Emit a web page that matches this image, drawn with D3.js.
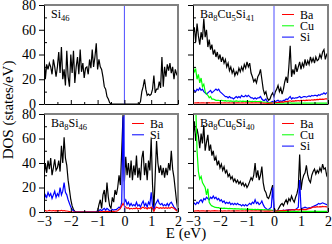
<!DOCTYPE html>
<html>
<head>
<meta charset="utf-8">
<script src="https://cdn.jsdelivr.net/npm/d3@7"></script>
<style>
body { margin: 0; background: #fff; }
text { font-family: "Liberation Serif", "Times New Roman", serif; }
</style>
</head>
<body>
<script>
// energy grid (eV), 0.05 steps
var energy = [
  -3.00,-2.95,-2.90,-2.85,-2.80,-2.75,-2.70,-2.65,-2.60,-2.55,
  -2.50,-2.45,-2.40,-2.35,-2.30,-2.25,-2.20,-2.15,-2.10,-2.05,
  -2.00,-1.95,-1.90,-1.85,-1.80,-1.75,-1.70,-1.65,-1.60,-1.55,
  -1.50,-1.45,-1.40,-1.35,-1.30,-1.25,-1.20,-1.15,-1.10,-1.05,
  -1.00,-0.95,-0.90,-0.85,-0.80,-0.75,-0.70,-0.65,-0.60,-0.55,
  -0.50,-0.45,-0.40,-0.35,-0.30,-0.25,-0.20,-0.15,-0.10,-0.05,
   0.00, 0.05, 0.10, 0.15, 0.20, 0.25, 0.30, 0.35, 0.40, 0.45,
   0.50, 0.55, 0.60, 0.65, 0.70, 0.75, 0.80, 0.85, 0.90, 0.95,
   1.00, 1.05, 1.10, 1.15, 1.20, 1.25, 1.30, 1.35, 1.40, 1.45,
   1.50, 1.55, 1.60, 1.65, 1.70, 1.75, 1.80, 1.85, 1.90, 1.95,
   2.00];

var xTicks = [-3, -2, -1, 0, 1, 2];
var xMinor = [-2.5, -1.5, -0.5, 0.5, 1.5];
var yTicks = [0, 20, 40, 60, 80];
var yMinor = [10, 30, 50, 70];

// Si46 total
var si46Tot = [
  40,20,32,28,33,30,24,36,30,22,
  30,42,25,46,20,28,15,43,22,14,
  40,25,43,17,30,38,24,44,26,33,
  21,29,30,24,36,29,44,30,38,49,
  28,36,30,28,22,14,12,6,4,1,
  0,0,0,0,0,0,0,0,0,0,
  0,0,0,0,0,0,0,0,0,0,
  0,0,2,10,14,20,12,7,8,7,
  8,12,23,9,12,12,18,13,38,14,
  30,22,32,27,33,25,30,20,28,24,
  22];

// Ba8Si46
var b46Tot = [
  28,40,32,42,35,44,30,36,43,34,
  36,42,33,54,40,61,44,38,26,18,
  10,5,2,0.5,0,0,0,0,0,0,
  0,0,0,0,0,0,0,0,0,0,
  1,6,10,3,14,18,8,24,12,5,
  3,12,8,18,14,20,30,22,50,80,
  25,45,30,40,28,42,26,38,30,46,
  28,36,26,44,50,30,40,26,42,34,
  60,22,2,30,58,40,32,38,30,36,
  28,36,30,40,34,50,35,28,18,8,
  1];
var b46Si = [
  9,14,12,16,13,15,11,14,17,12,
  15,13,20,14,17,24,16,14,10,7,
  4,2,1,0,0,0,0,0,0,0,
  0,0,0,0,0,0,0,0,0,0,
  0.5,1,2,1,2,3,1.5,3,2,1,
  1,2,1.5,2,2,3,4,3,8,78,
  8,10,6,8,5,7,5,6,5,8,
  5,6,4,7,9,5,7,4,8,6,
  16,5,1,6,8,10,7,6,7,5,
  6,5,7,5,7,8,6,4,3,1.5,
  0.5];
var b46Ba = [
  1,1.2,0.8,1,1.3,1,0.9,1.2,1,1.1,
  0.9,1.2,1,1.4,1,1.2,0.9,0.8,0.6,0.4,
  0.2,0,0,0,0,0,0,0,0,0,
  0,0,0,0,0,0,0,0,0,0,
  0,0.2,0.3,0.2,0.4,0.5,0.3,0.5,0.4,0.3,
  0.3,0.5,0.4,0.6,0.6,1,2,3,5,7,
  5,4,3,3.5,2.5,3,2.5,3,2.8,3.5,
  2.5,3,2.5,3.5,4,3,3.5,2.5,3.5,3,
  4,3,0.5,3,4,3.5,3,3.5,3,3.5,
  3,3.5,3,3.5,3,4,3.5,3,2,1,
  0.3];

// Ba8Cu5Si41
var c5Tot = [
  56,62,50,65,55,48,58,52,69,54,
  60,46,52,44,48,40,44,38,42,36,
  40,34,38,33,36,30,33,27,30,25,
  28,23,26,24,29,26,30,27,32,29,
  34,30,33,25,22,18,20,17,22,24,
  28,20,12,8,10,5,3,4,7,9,
  6,10,12,15,10,13,8,12,18,22,
  17,30,47,22,28,24,32,26,30,34,
  28,33,30,36,31,35,32,38,34,37,
  33,38,35,36,40,37,42,44,36,40,
  38];
var c5Si = [
  9,11,10,12,11,13,11,12,10,9,
  8,9,10,11,9,10,11,12,11,12,
  10,9,8,7,6,6,5,6,5,5,
  4,5,6,5,6,5,7,6,6,7,
  6,7,6,5,5,4,5,4,5,5,
  6,4,3,3,4,2,1,1,1.5,2,
  1.5,2,2.5,3,2,2.5,2,3,3,4,
  3.5,5,6,4,5,4.5,5,5,5.5,6,
  5,5.5,6,6,5.5,6,6.5,6,7,6.5,
  7,7,6.5,7.5,7,8,8,9,8,9,
  9];
var c5Cu = [
  32,26,28,20,24,17,21,14,16,10,
  8,7,5,6,4,4,3.5,3,3,3,
  2.5,3,2.8,2.5,2.7,2.4,2.6,2.3,2.5,2.2,
  2.4,2.2,2.5,2.3,2.2,2.4,2.2,2.3,2.1,2.2,
  2.3,2.1,2.2,2,2.1,2,2.2,2,1.9,2,
  2.1,1.8,1.6,1.5,1.4,1.2,1,0.9,0.9,0.8,
  0.8,0.8,0.7,0.8,0.7,0.7,0.8,0.7,0.7,0.8,
  0.7,0.8,0.9,0.7,0.8,0.7,0.8,0.7,0.8,0.7,
  0.8,0.7,0.8,0.7,0.8,0.7,0.8,0.7,0.8,0.7,
  0.8,0.7,0.8,0.7,0.8,0.7,0.8,0.7,0.8,0.7,
  0.7];
var c5Ba = [
  1,0.8,1,0.9,1.1,0.8,1,0.9,1,0.8,
  1,0.9,1.1,0.8,1,0.9,1,0.8,1,0.9,
  0.9,1,0.8,1,0.9,0.8,1,0.9,0.8,1,
  0.9,0.8,1,0.9,1,0.8,0.9,1,0.8,0.9,
  1,0.9,0.8,1,0.9,0.8,0.9,1,0.8,0.9,
  0.9,0.8,0.7,0.6,0.6,0.5,0.5,0.6,0.7,0.8,
  0.9,1,1.2,1.4,1.3,1.5,1.7,1.6,1.9,2.1,
  2,2.3,2.6,2.2,2.5,2.4,2.7,2.5,2.8,2.6,
  2.9,2.7,3,2.8,3.1,2.9,3.2,3,3.4,3.2,
  3.5,3.3,3.7,3.5,3.9,3.7,4,3.8,4.2,4.1,
  4.3];

// Ba8Cu6Si40
var c6Tot = [
  60,74,58,68,62,52,64,56,71,50,
  57,63,50,55,46,50,42,45,38,42,
  36,39,34,37,32,34,29,31,27,29,
  25,27,24,26,23,25,22,24,21,23,
  20,22,25,28,26,30,40,28,34,26,
  30,37,24,18,16,12,11,14,18,22,
  4,1,0.5,2,4,6,7,5,8,10,
  7,11,9,13,10,8,12,15,20,47,
  18,26,30,32,38,30,26,24,30,33,
  35,31,34,32,36,33,39,35,36,30,
  33];
var c6Si = [
  9,7,6,8,7,9,10,8,11,10,
  12,11,10,12,11,13,11,12,10,11,
  9,10,8,9,7,8,7,8,6,7,
  6,7,6,7,6,6,5,6,5,6,
  5,6,7,6,8,7,10,7,8,6,
  7,9,6,4,3,2,2,3,4,20,
  2,0.5,0.5,0.8,1,1.2,1,1.5,1.2,1.5,
  1.5,2,1.8,2,2,1.5,2,3,4,26,
  3,3,3.5,4,3.5,3,3.5,3,4,4.5,
  5,5.5,6,7,6.5,7,7.5,7,6.5,6,
  6];
var c6Cu = [
  100,95,88,50,33,27,29,24,22,20,
  14,19,8,6,5,4.5,4,3.8,3.5,3.5,
  3,3.2,3,3.1,2.9,3,2.8,2.9,2.7,2.8,
  2.6,2.7,2.5,2.6,2.5,2.4,2.5,2.3,2.4,2.3,
  2.2,2.3,2.2,2.1,2.2,2,2.1,2,2.1,2,
  1.9,2,1.8,1.9,1.7,1.8,1.6,1.7,1.5,1.4,
  0.8,0.6,0.5,0.5,0.6,0.5,0.6,0.5,0.5,0.6,
  0.5,0.6,0.5,0.6,0.5,0.6,0.5,0.6,0.5,0.8,
  0.6,0.5,0.6,0.5,0.6,0.5,0.6,0.5,0.6,0.5,
  0.6,0.5,0.6,0.5,0.6,0.5,0.6,0.5,0.6,0.5,
  0.5];
var c6Ba = [
  1,0.8,1,0.9,1.1,0.8,1,0.9,1,0.8,
  1,0.9,1,0.8,1,0.9,1.1,0.9,1,0.8,
  0.9,1,0.8,1,0.9,0.8,1,0.9,0.8,1,
  0.9,0.8,1,0.9,1,0.8,0.9,1,0.8,0.9,
  1,0.9,0.8,1,0.9,0.8,0.9,1,0.8,0.9,
  0.9,0.8,0.8,0.7,0.8,0.7,0.8,0.7,0.8,0.8,
  0.8,0.7,0.8,0.9,1,1.1,1.2,1.3,1.2,1.4,
  1.5,1.6,1.5,1.7,1.8,1.7,1.9,2,1.8,2,
  2,2.1,1.9,2.2,2,2.4,2.8,3.2,3.6,4,
  4.2,4,4.3,4.1,4.4,4.2,4.5,4.3,4.4,4.2,
  4.3];

var cBlack = "#000", cRed = "#ff0000", cGreen = "#00ff00", cBlue = "#0000ff";

var panels = [
  {col: 0, row: 0, label: [["Si", 0], ["46", 1]],
   series: [{v: si46Tot, c: cBlack}], legend: []},
  {col: 1, row: 0, label: [["Ba", 0], ["8", 1], ["Cu", 0], ["5", 1], ["Si", 0], ["41", 1]],
   series: [{v: c5Tot, c: cBlack}, {v: c5Si, c: cBlue}, {v: c5Cu, c: cGreen}, {v: c5Ba, c: cRed}],
   legend: [["Ba", cRed], ["Cu", cGreen], ["Si", cBlue]]},
  {col: 0, row: 1, label: [["Ba", 0], ["8", 1], ["Si", 0], ["46", 1]],
   series: [{v: b46Tot, c: cBlack}, {v: b46Si, c: cBlue}, {v: b46Ba, c: cRed}],
   legend: [["Ba", cRed], ["Si", cBlue]]},
  {col: 1, row: 1, label: [["Ba", 0], ["8", 1], ["Cu", 0], ["6", 1], ["Si", 0], ["40", 1]],
   series: [{v: c6Tot, c: cBlack}, {v: c6Si, c: cBlue}, {v: c6Cu, c: cGreen}, {v: c6Ba, c: cRed}],
   legend: [["Ba", cRed], ["Cu", cGreen], ["Si", cBlue]]}
];

var cols = [[44, 178], [193, 328]];
var rows = [[104, 5], [212, 114]];

var svg = d3.select("body").append("svg")
    .attr("width", 332)
    .attr("height", 244);
var defs = svg.append("defs");

panels.forEach(function(p, k) {
  var x = d3.scaleLinear().domain([-3, 2]).range(cols[p.col]);
  var y = d3.scaleLinear().domain([0, 80]).range(rows[p.row]);
  var g = svg.append("g");

  defs.append("clipPath").attr("id", "clip" + k)
    .append("rect")
      .attr("x", x(-3)).attr("y", y(80))
      .attr("width", x(2) - x(-3)).attr("height", y(0) - y(80));

  var line = d3.line()
      .x(function(d, i) { return x(energy[i]); })
      .y(function(d) { return y(d); });

  p.series.forEach(function(s) {
    g.append("path")
        .datum(s.v)
        .attr("clip-path", "url(#clip" + k + ")")
        .attr("fill", "none")
        .attr("stroke", s.c)
        .attr("stroke-width", 1.2)
        .attr("d", line);
  });

  // Fermi level
  g.append("line")
      .attr("x1", x(0)).attr("x2", x(0))
      .attr("y1", y(0)).attr("y2", y(80))
      .attr("stroke", "#4d4dff").attr("stroke-width", 1);

  // top / right frame
  g.append("path")
      .attr("d", "M" + x(-3) + "," + y(80) + "H" + x(2) + "V" + y(0))
      .attr("fill", "none").attr("stroke", "#808080").attr("stroke-width", 2);

  // y axis
  var ya = g.append("g")
      .attr("transform", "translate(" + x(-3) + ",0)")
      .call(d3.axisLeft(y).tickValues(yTicks).tickSize(5).tickSizeOuter(0)
        .tickFormat(p.col === 0 ? d3.format("d") : ""));
  g.append("g")
      .attr("transform", "translate(" + x(-3) + ",0)")
      .call(d3.axisLeft(y).tickValues(yMinor).tickSize(-3).tickFormat(""))
      .select(".domain").remove();

  // x axis
  var xa = g.append("g")
      .attr("transform", "translate(0," + y(0) + ")")
      .call(d3.axisBottom(x).tickValues(xTicks).tickSize(-4).tickSizeOuter(0).tickPadding(4)
        .tickFormat(p.row === 1 ? d3.format("d") : ""));
  g.append("g")
      .attr("transform", "translate(0," + y(0) + ")")
      .call(d3.axisBottom(x).tickValues(xMinor).tickSize(-2).tickFormat(""))
      .select(".domain").remove();

  [ya, xa].forEach(function(a) {
    a.attr("font-family", null).attr("font-size", 14);
    a.selectAll("text").attr("fill", "#000");
  });

  // panel label with subscripts
  var lt = g.append("text")
      .attr("x", x(-3) + 7)
      .attr("y", y(80) + 13)
      .attr("font-size", 12);
  var down = 0;
  p.label.forEach(function(part) {
    var shift = part[1] ? 3 : 0;
    lt.append("tspan")
        .attr("dy", shift - down)
        .attr("font-size", part[1] ? 8.5 : 12)
        .text(part[0]);
    down = shift;
  });

  // legend
  var lx = x(2) - 46, ly = y(80) + 9.5;
  p.legend.forEach(function(item, j) {
    g.append("line")
        .attr("x1", lx).attr("x2", lx + 12)
        .attr("y1", ly + j * 11.3).attr("y2", ly + j * 11.3)
        .attr("stroke", item[1]).attr("stroke-width", 1);
    g.append("text")
        .attr("x", lx + 18)
        .attr("y", ly + j * 11.3 + 4)
        .attr("font-size", 12)
        .text(item[0]);
  });
});

svg.append("text")
    .attr("x", 186)
    .attr("y", 238)
    .attr("text-anchor", "middle")
    .attr("font-size", 15)
    .text("E (eV)");

svg.append("text")
    .attr("transform", "translate(13,110) rotate(-90)")
    .attr("text-anchor", "middle")
    .attr("font-size", 15)
    .text("DOS (states/eV)");
</script>
</body>
</html>
